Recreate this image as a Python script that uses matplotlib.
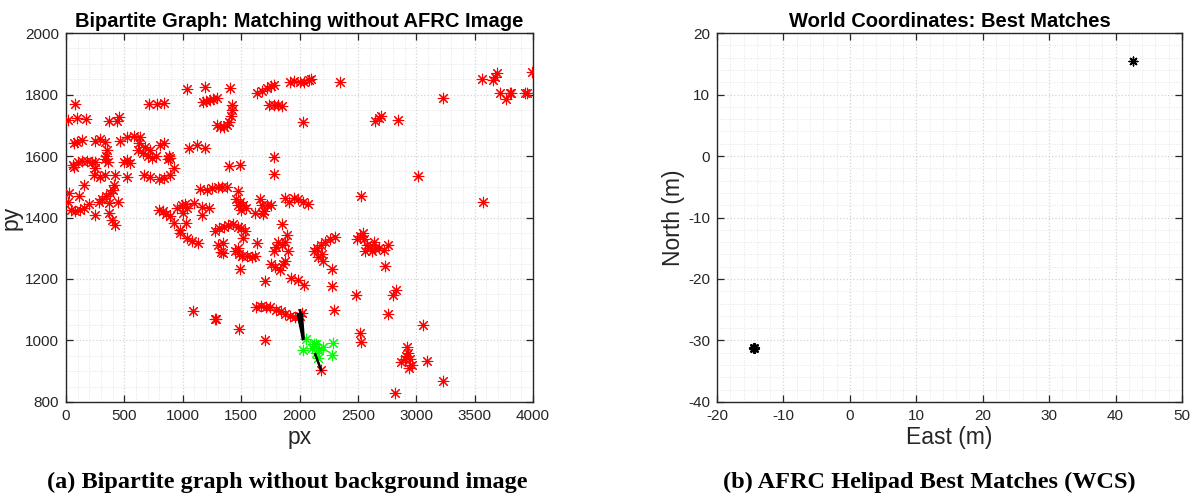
import numpy as np
import matplotlib
matplotlib.use("Agg")
import matplotlib.pyplot as plt
from matplotlib.ticker import MultipleLocator

plt.rcParams["axes.unicode_minus"] = False

# ---- unmatched image features (px, py) ----
red_x = [
    80, 17, 94, 171, 365, 451, 440, 713, 779, 837, 1036, 1188,
    1170, 1200, 1230, 1260, 1290,
    1290, 1320, 1350, 1380, 1400, 1415, 1425, 1420,
    1405, 1640, 1680, 1720, 1760, 1780, 1740, 1780, 1820, 1850,
    1920, 1950, 2000, 2040, 2080, 2100, 2347, 2033, 2650, 2680, 2700, 2846,
    3226, 3560, 3660, 3674, 3694, 3717, 3769, 3803, 3815, 3931, 3945, 3994,
    66, 94, 137, 250, 290, 330, 350, 340, 360, 330,
    465, 522, 580, 636, 622,
    620, 660, 700, 740, 770, 720, 680, 808, 837, 880, 870, 895,
    60, 100, 140, 180, 220, 250, 66, 494, 522, 551,
    251, 237, 294, 337, 422, 522, 665, 722, 794, 837, 893, 922,
    151, 23, 114, 194, 251, 17, 40, 80, 120, 150,
    280, 310, 340, 380, 400, 410, 366, 445, 366, 394, 417,
    800, 830, 860, 890, 922, 979, 1028, 979, 1036, 1079, 1131,
    950, 990, 1020, 1040, 1000, 1094, 1165, 1222, 1165,
    1151, 1208, 1250, 1300, 1340, 1380, 1051, 1122, 1193,
    1280, 1310, 1350, 1390, 1430, 1470, 1500, 1530, 1302, 1330, 1088, 1273,
    1393, 1490, 1784, 1784, 1470,
    1460, 1490, 1520, 1540, 1500, 1470, 1660, 1680, 1700, 1720, 1760, 1690, 1621,
    1880, 1910, 1950, 1990, 2030, 2070, 2526, 1850, 1890,
    1513, 1342, 1342, 1633, 1450, 1480, 1510, 1550, 1590, 1620, 1470, 1490,
    1780, 1800, 1820, 1850, 1880, 1900, 1760, 1790, 1830, 1860, 1880,
    1927, 1985, 2041, 1707,
    2120, 2150, 2180, 2220, 2260, 2300, 2160, 2190, 2200, 2278, 2278,
    2490, 2520, 2550, 2580, 2600, 2620, 2650, 2540, 2560, 2640, 2680, 2720, 2760, 2732,
    2484, 2298,
    1630, 1670, 1710, 1750, 1800, 1840, 1880, 1920, 1960, 2000, 2020,
    1285, 1479, 1707, 2518, 2527, 2184,
    3018, 3574, 2826, 2798, 2761, 3055,
    2870, 2900, 2920, 2930, 2950, 2960, 2940, 2910, 3089, 3232, 2818,
]
red_y = [
    1770, 1717, 1722, 1719, 1715, 1726, 1715, 1768, 1769, 1771, 1817, 1823,
    1775, 1780, 1783, 1786, 1790,
    1700, 1695, 1695, 1700, 1710, 1730, 1750, 1765,
    1820, 1805, 1812, 1820, 1828, 1832, 1765, 1765, 1765, 1762,
    1842, 1845, 1840, 1840, 1848, 1850, 1842, 1712, 1715, 1725, 1730, 1717,
    1788, 1849, 1847, 1856, 1871, 1806, 1784, 1804, 1804, 1804, 1804, 1874,
    1643, 1646, 1652, 1650, 1655, 1645, 1620, 1600, 1580, 1590,
    1650, 1663, 1665, 1661, 1641,
    1620, 1610, 1600, 1595, 1600, 1620, 1630, 1636, 1643, 1600, 1590, 1595,
    1570, 1580, 1585, 1585, 1582, 1580, 1565, 1581, 1587, 1576,
    1560, 1538, 1533, 1538, 1538, 1533, 1538, 1531, 1524, 1527, 1538, 1560,
    1506, 1481, 1470, 1444, 1408, 1451, 1425, 1420, 1425, 1430,
    1450, 1460, 1470, 1480, 1490, 1505, 1446, 1451, 1414, 1392, 1376,
    1425, 1420, 1410, 1405, 1381, 1359, 1383, 1351, 1332, 1324, 1318,
    1430, 1440, 1445, 1430, 1415, 1446, 1435, 1430, 1408,
    1492, 1489, 1495, 1500, 1500, 1500, 1625, 1636, 1625,
    1355, 1365, 1370, 1375, 1380, 1370, 1365, 1355, 1311, 1289, 1097, 1069,
    1567, 1570, 1596, 1541, 1487,
    1460, 1450, 1440, 1430, 1425, 1440, 1460, 1440, 1420, 1440, 1440, 1410, 1416,
    1465, 1450, 1465, 1460, 1450, 1445, 1470, 1379, 1343,
    1332, 1316, 1284, 1316, 1290, 1280, 1275, 1275, 1270, 1275, 1300, 1232,
    1290, 1305, 1320, 1310, 1320, 1290, 1250, 1240, 1230, 1250, 1260,
    1202, 1197, 1180, 1195,
    1290, 1300, 1310, 1320, 1330, 1335, 1270, 1280, 1260, 1232, 1177,
    1330, 1340, 1330, 1310, 1300, 1290, 1300, 1350, 1290, 1320, 1300, 1295, 1310, 1242,
    1147, 1099,
    1110, 1112, 1110, 1108, 1100, 1095, 1085, 1080, 1075, 1080, 1090,
    1069, 1036, 1002, 1024, 996, 904,
    1536, 1451, 1164, 1148, 1086, 1050,
    930, 940, 980, 960, 940, 920, 910, 950, 933, 869, 828,
]

# ---- AFRC template features (px, py) ----
green_x = [2056, 2027, 2141, 2198, 2141, 2155, 2284, 2278, 2110, 2170, 2120]
green_y = [1004, 969, 987, 980, 958, 942, 991, 953, 975, 970, 990]

# ---- matching edges: red feature -> green feature ----
edge_x0 = [1985, 2005, 2020, 2135]
edge_y0 = [1085, 1098, 1085, 955]
edge_x1 = [2030, 2030, 2035, 2184]
edge_y1 = [1005, 1005, 1010, 905]

# ---- best matches in world coordinates (m) ----
east = [-14.5, 42.7]
north = [-31.2, 15.5]

axis_dark = (0.15, 0.15, 0.15)
sans = ["Liberation Sans", "DejaVu Sans"]
asterisk = (8, 2, 0)


def style_axes(ax, xmaj, xmin, ymaj, ymin):
    ax.xaxis.set_major_locator(MultipleLocator(xmaj))
    ax.xaxis.set_minor_locator(MultipleLocator(xmin))
    ax.yaxis.set_major_locator(MultipleLocator(ymaj))
    ax.yaxis.set_minor_locator(MultipleLocator(ymin))
    ax.grid(True, which="major", color="#d4d4d4", linestyle=":", linewidth=0.9)
    ax.grid(True, which="minor", color="#e4e4e4", linestyle=":", linewidth=0.7)
    ax.set_axisbelow(True)
    ax.tick_params(which="major", direction="in", length=5, width=0.9,
                   top=True, right=True, color=axis_dark, labelcolor=axis_dark,
                   labelsize=11, pad=5)
    ax.tick_params(which="minor", length=0, top=True, right=True)
    for sp in ax.spines.values():
        sp.set_color(axis_dark)
        sp.set_linewidth(1.0)
    for lbl in ax.get_xticklabels() + ax.get_yticklabels():
        lbl.set_family(sans)


fig = plt.figure(figsize=(11.98, 4.98), dpi=100)
ax1 = fig.add_axes([0.0551, 0.1928, 0.3898, 0.7409])
ax2 = fig.add_axes([0.5985, 0.1928, 0.3881, 0.7409])

# Left: bipartite graph in image pixel space
for x0, y0, x1, y1 in zip(edge_x0, edge_y0, edge_x1, edge_y1):
    ax1.plot([x0, x1], [y0, y1], color="black", linewidth=1.8, zorder=4)
ax1.scatter(red_x, red_y, marker=asterisk, s=58, color="red", linewidths=0.8, zorder=3)
ax1.scatter(green_x, green_y, marker=asterisk, s=58, color="#00ff00", linewidths=0.8, zorder=3)
ax1.set_xlim(0, 4000)
ax1.set_ylim(800, 2000)
style_axes(ax1, 500, 100, 200, 50)
ax1.set_title("Bipartite Graph: Matching without AFRC Image", fontsize=14.5,
              fontweight="bold", family=sans, pad=4)
ax1.set_xlabel("px", fontsize=16.5, family=sans, color=axis_dark, labelpad=2)
ax1.set_ylabel("py", fontsize=16.5, family=sans, color=axis_dark, labelpad=2)

# Right: best matches in world frame
ax2.scatter(east, north, marker=asterisk, s=40, color="black", linewidths=1.0, zorder=3)
ax2.scatter(east[:1], north[:1], marker=asterisk, s=40, color="black", linewidths=1.8, zorder=3)
ax2.set_xlim(-20, 50)
ax2.set_ylim(-40, 20)
style_axes(ax2, 10, 2, 10, 2)
ax2.set_title("World Coordinates: Best Matches", fontsize=14.5,
              fontweight="bold", family=sans, pad=4)
ax2.set_xlabel("East (m)", fontsize=16.5, family=sans, color=axis_dark, labelpad=2)
ax2.set_ylabel("North (m)", fontsize=16.5, family=sans, color=axis_dark, labelpad=2)

# Sub-figure captions
cap_font = ["Liberation Serif", "DejaVu Serif"]
fig.text(0.2395, 0.032, "(a) Bipartite graph without background image",
         ha="center", va="center", fontsize=17.5, fontweight="bold", family=cap_font)
fig.text(0.7755, 0.032, "(b) AFRC Helipad Best Matches (WCS)",
         ha="center", va="center", fontsize=17.5, fontweight="bold", family=cap_font)

fig.savefig("out.png", dpi=100)
